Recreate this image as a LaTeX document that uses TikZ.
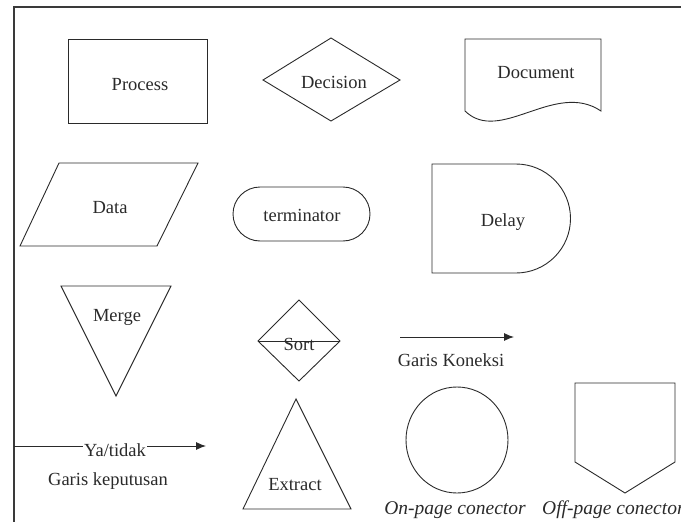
\documentclass[tikz,border=0pt]{standalone}
\usepackage{fontspec}
\setmainfont{Liberation Serif}
\usetikzlibrary{arrows.meta}
\definecolor{ink}{HTML}{2A2A2A}
\definecolor{framec}{HTML}{3A3A3A}
\begin{document}
\begin{tikzpicture}[x=1pt,y=-1pt,
  shp/.style={draw=ink,line width=0.9pt,line join=miter},
  lbl/.style={text=ink,inner sep=0pt,font=\fontsize{18.5}{22}\selectfont},
  ilbl/.style={lbl,font=\fontsize{19.5}{23}\selectfont\itshape},
  conn/.style={draw=ink,line width=0.9pt,-{Latex[length=10pt,width=8pt]}}]
\useasboundingbox (0,0) rectangle (681,522);
% frame
\draw[framec,line width=2pt] (14,522) -- (14,7) -- (681,7);
% Process
\draw[shp] (68,39) rectangle (207,123);
\node[lbl] (process) at (140,85) {Process};
% Decision
\draw[shp] (331,38) -- (400,80) -- (331,121) -- (263,80) -- cycle;
\node[lbl] (decision) at (334,82) {Decision};
% Document
\draw[shp] (465,111) -- (465,39) -- (601,39) -- (601,111)
  .. controls (555,80) and (500,145) .. (465,111) -- cycle;
\node[lbl] (document) at (536,73) {Document};
% Data
\draw[shp] (59,163) -- (198,163) -- (157,246) -- (20,246) -- cycle;
\node[lbl] (data) at (110,208) {Data};
% Terminator
\draw[shp,rounded corners=27pt] (233,187) rectangle (370,241);
\node[lbl] (term) at (302,215) {terminator};
% Delay
\draw[shp] (516,164) -- (432,164) -- (432,273) -- (516,273) arc[start angle=90,end angle=-90,radius=54.5];
\node[lbl] (delay) at (503,222) {Delay};
% Merge
\draw[shp] (61,286) -- (171,286) -- (116,396) -- cycle;
\node[lbl] (merge) at (117,317) {Merge};
% Sort
\draw[shp] (299,300) -- (340,341) -- (299,381) -- (258,341) -- cycle;
\draw[shp] (258,341) -- (340,341);
\node[lbl] (sort) at (299,344) {Sort};
% Garis Koneksi
\coordinate (gk1) at (400,337);
\coordinate (gk2) at (514,337);
\draw[conn] (gk1) -- (gk2);
\node[lbl] (gklbl) at (451,360) {Garis Koneksi};
% Ya/tidak
\coordinate (yt1) at (14,446);
\coordinate (yt2) at (206,446);
\draw[conn] (yt1) -- (yt2);
\node[lbl,fill=white,inner sep=1pt] (yt) at (115,450) {Ya/tidak};
\node[lbl] (gkep) at (108,481) {Garis keputusan};
% Extract
\draw[shp] (296,399) -- (351,509) -- (243,509) -- cycle;
\node[lbl] (extract) at (295,485) {Extract};
% On-page connector
\draw[shp] (457,440) ellipse[x radius=51,y radius=53];
\node[ilbl] (onp) at (455,510) {On-page conector};
% Off-page connector
\draw[shp] (575,383) -- (675,383) -- (675,462) -- (625,493) -- (575,462) -- cycle;
\node[ilbl,anchor=west] (offp) at (542,510) {Off-page conector};
\end{tikzpicture}
\end{document}
